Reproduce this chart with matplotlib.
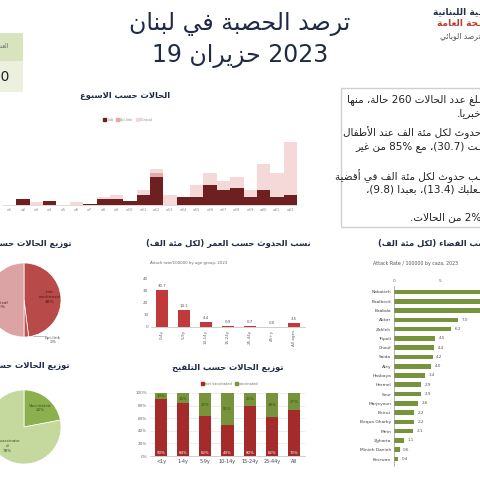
import matplotlib
matplotlib.use('Agg')
import matplotlib.pyplot as plt
from matplotlib.patches import Rectangle, Patch

# ---------------- data ----------------
weeks = ['w%d' % i for i in range(1, 23)]
lab_cases = [0, 4, 0, 3, 0, 0, 1, 4, 4, 3, 7, 20, 0, 6, 6, 14, 11, 12, 6, 11, 6, 7]
epi_cases = [0, 0, 0, 0, 0, 0, 0, 0, 0, 0, 0, 3, 0, 0, 0, 0, 0, 0, 0, 0, 0, 0]
clinical_cases = [0, 0, 2, 0, 0, 2, 0, 2, 3, 0, 4, 3, 7, 0, 8, 9, 6, 8, 5, 18, 17, 38]

source_labels = ['Lab\nconfirmed\n48%', 'Epi-link\n2%', 'Clinical\n50%']
source_share = [48, 2, 50]

age_groups = ['0-4y', '5-9y', '10-14y', '15-24y', '25-44y', '45+y', 'All ages']
age_rate = [30.7, 14.1, 4.4, 0.9, 0.7, 0.0, 3.5]

cazas = ['Nabatieh', 'Baalbeck', 'Baabda', 'Akkar', 'Zahleh', 'Tripoli', 'Chouf',
         'Saida', 'Aley', 'Hasbaya', 'Hermel', 'Sour', 'Marjeyoun', 'Beirut',
         'Bequa Gharby', 'Metn', 'Zghorta', 'Minieh Danieh', 'Kesrwan']
caza_rate = [16.3, 13.4, 9.8, 7.0, 6.2, 4.5, 4.4, 4.2, 4.0, 3.4, 2.9, 2.9, 2.6,
             2.2, 2.2, 2.1, 1.1, 0.6, 0.4]

vacc_labels = ['Vaccinated\n22%', 'Unvaccinate\nd\n78%']
vacc_share = [22, 78]

vacc_groups = ['<1y', '1-4y', '5-9y', '10-14y', '15-24y', '25-44y', 'All']
not_vaccinated = [90, 84, 63, 49, 80, 62, 73]
vaccinated = [10, 16, 37, 51, 20, 38, 27]

# ------------- arabic shaping (matplotlib has no shaper) -------------
_seq = [('ء', 1), ('آ', 2), ('أ', 2), ('ؤ', 2), ('إ', 2), ('ئ', 4), ('ا', 2), ('ب', 4),
        ('ة', 2), ('ت', 4), ('ث', 4), ('ج', 4), ('ح', 4), ('خ', 4), ('د', 2), ('ذ', 2),
        ('ر', 2), ('ز', 2), ('س', 4), ('ش', 4), ('ص', 4), ('ض', 4), ('ط', 4), ('ظ', 4),
        ('ع', 4), ('غ', 4), ('ف', 4), ('ق', 4), ('ك', 4), ('ل', 4), ('م', 4), ('ن', 4),
        ('ه', 4), ('و', 2), ('ى', 2), ('ي', 4)]
FORMS = {}
code = 0xFE80
for ch, n in _seq:
    FORMS[ch] = [chr(code + k) for k in range(n)]
    code += n
LAMALEF = {'آ': (0xFEF5, 0xFEF6), 'أ': (0xFEF7, 0xFEF8), 'إ': (0xFEF9, 0xFEFA), 'ا': (0xFEFB, 0xFEFC)}
TATWEEL = '\u0640'


def joins(ch):
    return (ch in FORMS and ch != 'ء') or ch == TATWEEL


def dual(ch):
    return (ch in FORMS and len(FORMS[ch]) == 4) or ch == TATWEEL


def shape(s):
    out = []
    i = 0
    while i < len(s):
        ch = s[i]
        prev = s[i - 1] if i > 0 else ''
        if ch not in FORMS:
            out.append(ch)
            i += 1
            continue
        cp = dual(prev) and joins(ch)
        if ch == 'ل' and i + 1 < len(s) and s[i + 1] in LAMALEF:
            out.append(chr(LAMALEF[s[i + 1]][1 if cp else 0]))
            i += 2
            continue
        nxt = s[i + 1] if i + 1 < len(s) else ''
        cn = dual(ch) and joins(nxt)
        f = FORMS[ch]
        if cp and cn:
            out.append(f[3])
        elif cp:
            out.append(f[1])
        elif cn:
            out.append(f[2])
        else:
            out.append(f[0])
        i += 1
    return ''.join(out)


def visual(s):
    types = []
    for k, ch in enumerate(s):
        if '\u0600' <= ch <= '\u06ff' or '\ufe70' <= ch <= '\ufeff':
            types.append('R')
        elif ch.isdigit() or (ch.isascii() and ch.isalpha()):
            types.append('L')
        else:
            types.append('N')
    for k, ch in enumerate(s):
        if ch == '.' and 0 < k < len(s) - 1 and s[k - 1].isdigit() and s[k + 1].isdigit():
            types[k] = 'L'
        if ch == '%' and k > 0 and s[k - 1].isdigit():
            types[k] = 'L'
    for k in range(len(s)):
        if types[k] == 'N':
            p = next((types[j] for j in range(k - 1, -1, -1) if types[j] != 'N'), 'R')
            q = next((types[j] for j in range(k + 1, len(s)) if types[j] != 'N'), 'R')
            types[k] = p if p == q else 'R'
    items = list(zip(s, types))[::-1]
    res = []
    run = []
    for ch, t in items:
        if t == 'L':
            run.append(ch)
        else:
            if run:
                res.extend(run[::-1])
                run = []
            res.append({'(': ')', ')': '('}.get(ch, ch))
    res.extend(run[::-1])
    return ''.join(res)


def ar(s):
    return visual(shape(s))


# ---------------- figure ----------------
W, H = 480, 480
fig = plt.figure(figsize=(4.8, 4.8), dpi=100)
fig.patch.set_facecolor('white')


def box(x0, y0, x1, y1):
    return [x0 / W, 1 - y1 / H, (x1 - x0) / W, (y1 - y0) / H]


def ftext(x, y, s, **kw):
    kw.setdefault('family', 'DejaVu Sans')
    fig.text(x / W, 1 - y / H, s, **kw)


navy = '#1f2a44'

# title
ftext(240, 24, ar('ترصد الحصبة في لبنان'), fontsize=17, color=navy, ha='center', va='center')
ftext(240, 56, ar('2023 حزيران 19'), fontsize=17, color=navy, ha='center', va='center')

# logo text (cut at right edge)
ftext(481, 12, ar('ـية اللبنانية'), fontsize=6.5, color='#1f3050', ha='right', va='center', weight='bold')
ftext(481, 24, ar('ـحة العامة'), fontsize=6.5, color='#c0392b', ha='right', va='center', weight='bold')
ftext(481, 36, ar('ترصد الوبائي'), fontsize=5.5, color='#555555', ha='right', va='center')

# top left box
fig.patches.append(Rectangle((0, 1 - 61 / H), 23 / W, 28 / H, transform=fig.transFigure,
                             facecolor='#d7e4bd', edgecolor='none'))
fig.patches.append(Rectangle((0, 1 - 92 / H), 23 / W, 31 / H, transform=fig.transFigure,
                             facecolor='#ebf1de', edgecolor='none'))
ftext(9, 46, ar('العدد'), fontsize=4, color='#666666', ha='right', va='center')
ftext(9, 77, '260', fontsize=10, color='#222222', ha='right', va='center')

# text box on the right
fig.patches.append(Rectangle((341 / W, 1 - 227 / H), 145 / W, 139 / H, transform=fig.transFigure,
                             facecolor='white', edgecolor='#d0d0d0', lw=1))
lines = [
    (100, 'ـلغ عدد الحالات 260 حالة، منها'),
    (113, 'خبريا.'),
    (133, 'حدوث لكل مئة الف عند الأطفال'),
    (147, 'ـت (30.7)، مع 85% من غير'),
    (176, 'ـب حدوث لكل مئة الف في أقضية'),
    (189, 'ـعلبك (13.4)، بعبدا (9.8)،'),
    (217, '2% من الحالات.'),
]
for y, s in lines:
    ftext(481, y, ar(s), fontsize=7.5, color='#222222', ha='right', va='center')

# ---------------- weekly epicurve ----------------
ax = fig.add_axes(box(3, 121, 297, 205))
x = range(len(weeks))
bottom2 = [a + b for a, b in zip(lab_cases, epi_cases)]
ax.bar(x, lab_cases, width=1, color='#6e1f1f', label='Lab')
ax.bar(x, epi_cases, width=1, bottom=lab_cases, color='#e4a9a9', label='Epi-link')
ax.bar(x, clinical_cases, width=1, bottom=bottom2, color='#f5d9d9', label='Clinical')
ax.set_xlim(-0.5, len(weeks) - 0.5)
ax.set_ylim(0, 60)
ax.set_yticks([])
ax.set_xticks(list(x))
ax.set_xticklabels(weeks, fontsize=2.5, color='#888888')
ax.tick_params(axis='x', length=0, pad=2)
for sp in ['top', 'right', 'left']:
    ax.spines[sp].set_visible(False)
ax.spines['bottom'].set_color('#cccccc')
ax.spines['bottom'].set_linewidth(0.5)
ax.patch.set_alpha(0)
ftext(125, 95, ar('الحالات حسب الاسبوع'), fontsize=6, color=navy, ha='center', va='center', weight='bold')
fig.legend(handles=[Patch(color='#6e1f1f'), Patch(color='#e4a9a9'), Patch(color='#f5d9d9')],
           labels=['Lab', 'Epi-link', 'Clinical'], loc='center',
           bbox_to_anchor=(128 / W, 1 - 120 / H), ncol=3, fontsize=2.5, frameon=False,
           handlelength=0.8, handleheight=0.8, handletextpad=0.3, columnspacing=0.8,
           labelcolor='#888888')

# ---------------- pie by classification ----------------
ax = fig.add_axes(box(-13, 263, 61, 337))
ax.pie(source_share, colors=['#b84b4a', '#c0504d', '#dba3a3'], startangle=90,
       counterclock=False, wedgeprops=dict(edgecolor='white', linewidth=0.5))
ax.set_xlim(-1, 1)
ax.set_ylim(-1, 1)
ax.set_aspect('equal')
ftext(50, 297, source_labels[0], fontsize=3.2, color='#5a1a1a', ha='center', va='center')
ftext(53, 340, source_labels[1], fontsize=3.2, color='#555555', ha='center', va='center')
ftext(1, 305, source_labels[2], fontsize=3.2, color='#5a1a1a', ha='center', va='center')
fig.add_artist(plt.Line2D([33 / W, 44 / W], [1 - 336 / H, 1 - 336 / H], color='#888888', lw=0.4))
ftext(72, 243, ar('توزيع الحالات حسب التصنيف'), fontsize=6, color=navy, ha='right', va='center', weight='bold')

# ---------------- attack rate by age ----------------
ax = fig.add_axes(box(151, 279, 305, 327))
ax.bar(range(len(age_groups)), age_rate, width=0.55, color='#c0393b')
for i, v in enumerate(age_rate):
    ax.text(i, v + 1.5, '%.1f' % v, ha='center', va='bottom', fontsize=2.8, color='#555555')
ax.set_ylim(0, 40)
ax.set_xlim(-0.5, len(age_groups) - 0.5)
ax.set_yticks([0, 10, 20, 30, 40])
ax.tick_params(axis='y', labelsize=3, colors='#666666', length=0, pad=2)
ax.set_xticks(range(len(age_groups)))
ax.set_xticklabels(age_groups, rotation=90, fontsize=3, color='#666666')
ax.tick_params(axis='x', length=0, pad=2)
for sp in ['top', 'right', 'left']:
    ax.spines[sp].set_visible(False)
ax.spines['bottom'].set_color('#bbbbbb')
ax.spines['bottom'].set_linewidth(0.5)
ftext(228, 243, ar('نسب الحدوث حسب العمر (لكل مئة الف)'), fontsize=6, color=navy, ha='center', va='center', weight='bold')
ftext(150, 263, 'Attack rate/100000 by age group, 2023', fontsize=2.8, color='#666666', ha='left', va='center')

# ---------------- attack rate by caza ----------------
ax = fig.add_axes(box(394, 285.5, 394 + 18 * 9.2, 465.5))
ax.barh(range(len(cazas)), caza_rate, height=0.5, color='#77933c')
for i, v in enumerate(caza_rate):
    if v < 8:  # labels of the longest bars fall outside the slide crop
        ax.text(v + 0.4, i, '%.1f' % v, ha='left', va='center', fontsize=3, color='#555555')
ax.set_ylim(len(cazas) - 0.3, -0.7)
ax.set_xlim(0, 18)
ax.set_yticks(range(len(cazas)))
ax.set_yticklabels(cazas, fontsize=3.2, color='#444444')
ax.xaxis.tick_top()
ax.set_xticks([0, 5])
ax.tick_params(axis='x', labelsize=3.2, colors='#666666', length=0, pad=2)
ax.tick_params(axis='y', length=0, pad=2)
for sp in ['top', 'right', 'bottom']:
    ax.spines[sp].set_visible(False)
ax.spines['left'].set_color('#999999')
ax.spines['left'].set_linewidth(0.5)
ftext(378, 243, ar('حسب القضاء (لكل مئة الف)'), fontsize=6, color=navy, ha='left', va='center', weight='bold')
ftext(373, 263, 'Attack Rate / 100000 by caza, 2023', fontsize=3.4, color='#555555', ha='left', va='center')

# ---------------- pie by vaccination ----------------
ax = fig.add_axes(box(-13, 390, 61, 464))
ax.pie(vacc_share, colors=['#8db04f', '#c5d99e'], startangle=90, counterclock=False,
       wedgeprops=dict(edgecolor='white', linewidth=0.5))
ax.set_xlim(-1, 1)
ax.set_ylim(-1, 1)
ax.set_aspect('equal')
ftext(40, 408, vacc_labels[0], fontsize=3, color='#3d4f1a', ha='center', va='center')
ftext(7, 446, vacc_labels[1], fontsize=3, color='#3d4f1a', ha='center', va='center')
ftext(70, 366, ar('توزيع الحالات حسب التلقيح'), fontsize=6, color=navy, ha='right', va='center', weight='bold')

# ---------------- vaccination by age ----------------
ax = fig.add_axes(box(150, 393, 305, 456))
xv = range(len(vacc_groups))
ax.bar(xv, not_vaccinated, width=0.55, color='#a52a2a', label='not vaccinated')
ax.bar(xv, vaccinated, width=0.55, bottom=not_vaccinated, color='#77933c', label='vaccinated')
for i in xv:
    ax.text(i, 5, '%d%%' % not_vaccinated[i], ha='center', va='center', fontsize=2.8, color='white')
    ypos = not_vaccinated[i] + vaccinated[i] / 2 if vaccinated[i] >= 20 else not_vaccinated[i] + 6
    ax.text(i, ypos, '%d%%' % vaccinated[i], ha='center', va='center', fontsize=2.8, color='#3d4f1a')
ax.set_ylim(0, 100)
ax.set_xlim(-0.5, len(vacc_groups) - 0.5)
ax.set_yticks([0, 20, 40, 60, 80, 100])
ax.set_yticklabels(['%d%%' % t for t in [0, 20, 40, 60, 80, 100]])
ax.tick_params(axis='y', labelsize=3, colors='#666666', length=0, pad=2)
ax.set_xticks(list(xv))
ax.set_xticklabels(vacc_groups, fontsize=3.5, color='#444444')
ax.tick_params(axis='x', length=0, pad=2)
ax.grid(axis='y', color='#e0e0e0', lw=0.4)
ax.set_axisbelow(True)
for sp in ['top', 'right', 'left']:
    ax.spines[sp].set_visible(False)
ax.spines['bottom'].set_color('#bbbbbb')
ax.spines['bottom'].set_linewidth(0.5)
fig.legend(handles=[Patch(color='#a52a2a'), Patch(color='#77933c')],
           labels=['not vaccinated', 'vaccinated'], loc='center',
           bbox_to_anchor=(230 / W, 1 - 384 / H), ncol=2, fontsize=2.5, frameon=False,
           handlelength=0.8, handleheight=0.8, handletextpad=0.3, columnspacing=1.0,
           labelcolor='#666666')
ftext(228, 367, ar('توزيع الحالات حسب التلقيح'), fontsize=6, color=navy, ha='center', va='center', weight='bold')

fig.savefig('out.png', dpi=100)
